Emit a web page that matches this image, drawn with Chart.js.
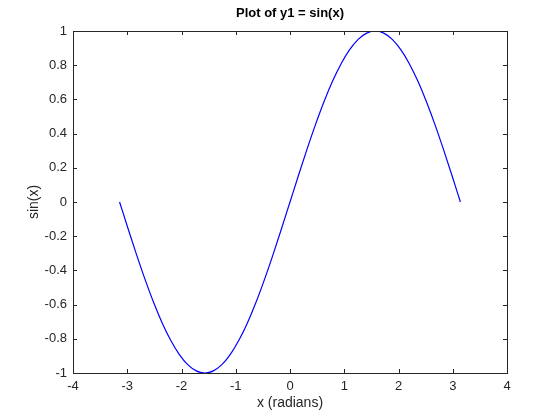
<!DOCTYPE html>
<html>
<head>
<meta charset="utf-8">
<script src="https://cdn.jsdelivr.net/npm/chart.js@4/dist/chart.umd.min.js"></script>
<style>
  html, body { margin: 0; padding: 0; background: #fff; }
  #wrap { width: 560px; height: 420px; }
</style>
</head>
<body>
<div id="wrap"><canvas id="chart" width="560" height="420"></canvas></div>
<script>
const xVals = [-3.1416, -2.9845, -2.8274, -2.6704, -2.5133, -2.3562, -2.1991, -2.0420, -1.8850, -1.7279,
  -1.5708, -1.4137, -1.2566, -1.0996, -0.9425, -0.7854, -0.6283, -0.4712, -0.3142, -0.1571,
  0, 0.1571, 0.3142, 0.4712, 0.6283, 0.7854, 0.9425, 1.0996, 1.2566, 1.4137,
  1.5708, 1.7279, 1.8850, 2.0420, 2.1991, 2.3562, 2.5133, 2.6704, 2.8274, 2.9845, 3.1416];
const yVals = [0, -0.1564, -0.3090, -0.4540, -0.5878, -0.7071, -0.8090, -0.8910, -0.9511, -0.9877,
  -1.0, -0.9877, -0.9511, -0.8910, -0.8090, -0.7071, -0.5878, -0.4540, -0.3090, -0.1564,
  0, 0.1564, 0.3090, 0.4540, 0.5878, 0.7071, 0.8090, 0.8910, 0.9511, 0.9877,
  1.0, 0.9877, 0.9511, 0.8910, 0.8090, 0.7071, 0.5878, 0.4540, 0.3090, 0.1564, 0];

const xTicks = [-4, -3, -2, -1, 0, 1, 2, 3, 4];
const yTicks = [-1, -0.8, -0.6, -0.4, -0.2, 0, 0.2, 0.4, 0.6, 0.8, 1];

const titleText = "Plot of y1 = sin(x)";
const xLabel = "x (radians)";
const yLabel = "sin(x)";

const axisColor = "#262626";
const fontFamily = "'Liberation Sans', Arial, sans-serif";

// =======================
// BOX, INWARD TICKS, TITLE
// =======================
const matlabAxes = {
  id: "matlabAxes",
  afterDraw(c) {
    const ctx = c.ctx;
    const a = c.chartArea;
    const xs = c.scales.x, ys = c.scales.y;
    const len = 4;
    ctx.save();
    ctx.strokeStyle = axisColor;
    ctx.lineWidth = 1;
    ctx.beginPath();
    xTicks.forEach(t => {
      const px = Math.round(xs.getPixelForValue(t)) + 0.5;
      ctx.moveTo(px, a.bottom); ctx.lineTo(px, a.bottom - len);
      ctx.moveTo(px, a.top); ctx.lineTo(px, a.top + len);
    });
    yTicks.forEach(t => {
      const py = Math.round(ys.getPixelForValue(t)) + 0.5;
      ctx.moveTo(a.left, py); ctx.lineTo(a.left + len, py);
      ctx.moveTo(a.right, py); ctx.lineTo(a.right - len, py);
    });
    ctx.stroke();
    ctx.strokeRect(Math.round(a.left) + 0.5, Math.round(a.top) + 0.5,
      Math.round(a.right - a.left), Math.round(a.bottom - a.top));

    ctx.fillStyle = "#000";
    ctx.font = "bold 13px " + fontFamily;
    ctx.textAlign = "center";
    ctx.textBaseline = "alphabetic";
    ctx.fillText(titleText, (a.left + a.right) / 2, 17);
    ctx.restore();
  }
};

// =======================
// CHART
// =======================
const ctx = document.getElementById("chart").getContext("2d");

new Chart(ctx, {
  type: "line",
  data: {
    datasets: [{
      data: xVals.map((x, i) => ({ x: x, y: yVals[i] })),
      borderColor: "#0000ff",
      borderWidth: 1.2,
      pointRadius: 0,
      fill: false,
      cubicInterpolationMode: "monotone"
    }]
  },
  options: {
    responsive: false,
    animation: false,
    layout: { padding: { top: 31, right: 53, left: 0, bottom: 0 } },
    plugins: { legend: { display: false }, title: { display: false }, tooltip: { enabled: false } },
    scales: {
      x: {
        type: "linear",
        min: -4, max: 4,
        afterBuildTicks: s => { s.ticks = xTicks.map(v => ({ value: v })); },
        afterFit: s => { s.height = 47; },
        grid: { display: false, drawTicks: false },
        border: { display: false },
        ticks: {
          color: axisColor, padding: 6, maxRotation: 0,
          font: { family: fontFamily, size: 13 },
          callback: v => String(v)
        },
        title: {
          display: true, text: xLabel, color: axisColor,
          font: { family: fontFamily, size: 14 },
          padding: { top: 0, bottom: 8 }
        }
      },
      y: {
        type: "linear",
        min: -1, max: 1,
        afterBuildTicks: s => { s.ticks = yTicks.map(v => ({ value: v })); },
        afterFit: s => { s.width = 73; },
        grid: { display: false, drawTicks: false },
        border: { display: false },
        ticks: {
          color: axisColor, padding: 6,
          font: { family: fontFamily, size: 13 },
          callback: v => String(+v.toFixed(1))
        },
        title: {
          display: true, text: yLabel, color: axisColor,
          font: { family: fontFamily, size: 14 },
          padding: { top: 26, bottom: 0 }
        }
      }
    }
  },
  plugins: [matlabAxes]
});
</script>
</body>
</html>
